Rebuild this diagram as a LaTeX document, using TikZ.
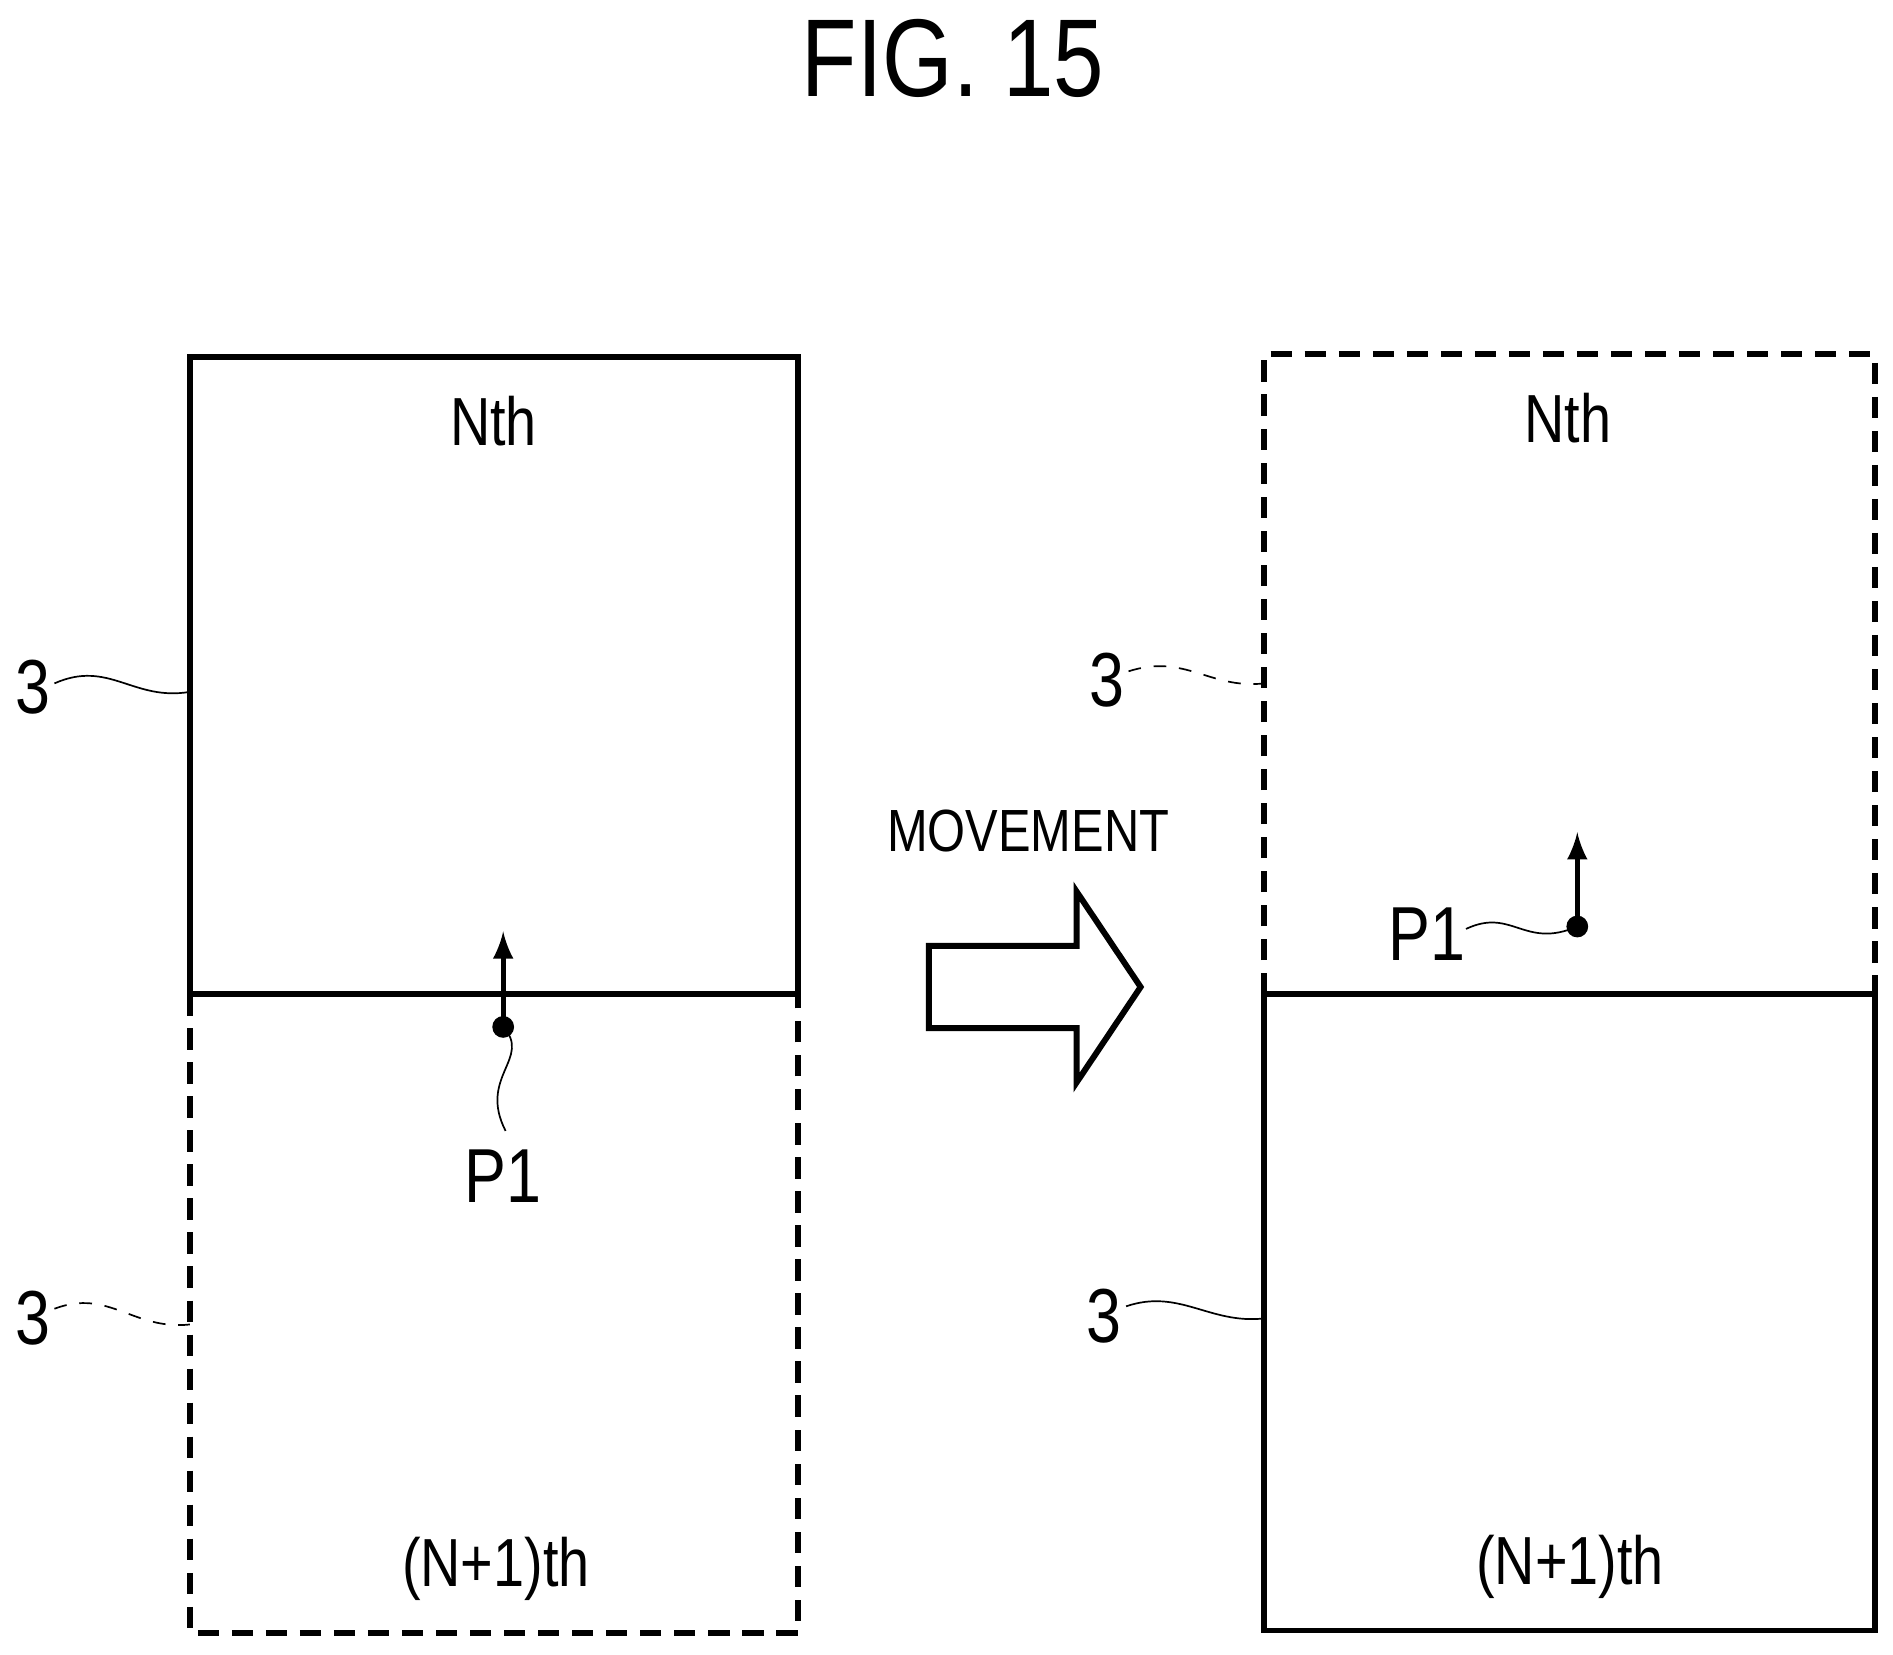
\documentclass[tikz,border=0pt]{standalone}
\usepackage{fontspec}
\setmainfont{Liberation Serif}
\setsansfont{Liberation Sans}[FakeStretch=0.82]
\usetikzlibrary{arrows}
\begin{document}
\begin{tikzpicture}[>=latex, x=0.01cm, y=-0.01cm, font=\sffamily]

% background
\useasboundingbox (0,0) rectangle (1565,1368);
\fill[white] (0,0) rectangle (1565,1368);

\tikzset{frame/.style={line width=1.4pt},
         ghost/.style={line width=1.4pt, dash pattern=on 5pt off 3pt},
         lbl/.style={font=\sffamily\fontsize{18}{18}\selectfont},
         txt/.style={font=\sffamily\fontsize{16}{16}\selectfont}}

% title
\node (title) at (788,48) {\fontsize{26}{26}\selectfont FIG. 15};

% left pair of frames
\draw[frame] (157,822) rectangle (660,295);
\draw[ghost] (157,822) rectangle (660,1350);
\node[txt] (nl) at (408,348) {Nth};
\node[txt] (ml) at (410,1297) {(N+1)th};

% right pair of frames
\draw[ghost] (1045,822) rectangle (1550,293);
\draw[frame] (1045,822) rectangle (1550,1348);
\node[txt] (nr) at (1296,346) {Nth};
\node[txt] (mr) at (1298,1295) {(N+1)th};

% movement arrow
\node[font=\sffamily\fontsize{14}{14}\selectfont] (mv) at (850,687) {MOVEMENT};
\draw[line width=1.4pt] (768,782) -- (890,782) -- (890,737) -- (943,816)
  -- (890,895) -- (890,850) -- (768,850) -- cycle;

% point P1, before
\coordinate (pl) at (416,849);
\coordinate (pla) at (416,770);
\fill (pl) circle (9);
\draw[->, line width=1.2pt] (pl) -- (pla);
\node[lbl] (p1l) at (416,972) {P1};
\draw (pl) .. controls (440,875) and (395,890) .. (418,935);

% point P1, after
\coordinate (pr) at (1304,766);
\coordinate (pra) at (1304,688);
\fill (pr) circle (9);
\draw[->, line width=1.2pt] (pr) -- (pra);
\node[lbl] (p1r) at (1180,772) {P1};
\draw (1212,768) .. controls (1250,750) and (1260,785) .. (pr);

% reference numerals
\node[lbl] (r1) at (27,568) {3};
\draw (45,565) .. controls (90,545) and (110,580) .. (157,572);
\node[lbl] (r2) at (27,1090) {3};
\draw[dashed] (45,1082) .. controls (90,1065) and (110,1100) .. (157,1095);
\node[lbl] (r3) at (915,562) {3};
\draw[dashed] (933,555) .. controls (980,540) and (1000,570) .. (1045,565);
\node[lbl] (r4) at (913,1088) {3};
\draw (931,1080) .. controls (975,1065) and (1000,1095) .. (1045,1090);

\end{tikzpicture}
\end{document}
